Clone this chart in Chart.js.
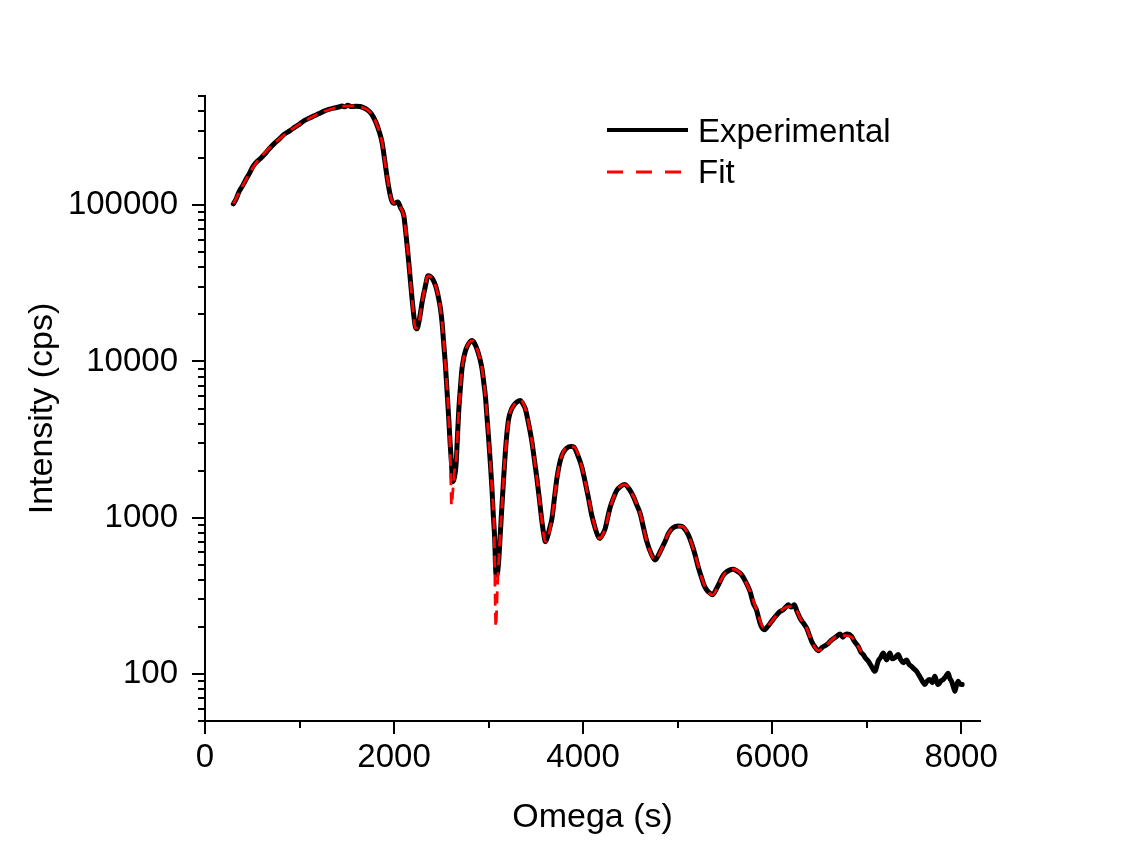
<!DOCTYPE html>
<html>
<head>
<meta charset="utf-8">
<title>Intensity vs Omega</title>
<script src="https://cdn.jsdelivr.net/npm/chart.js@4.4.1/dist/chart.umd.min.js"></script>
<style>
  html, body { margin: 0; padding: 0; background: #fff; }
  #wrap { width: 1130px; height: 863px; position: relative; }
</style>
</head>
<body>
<div id="wrap"><canvas id="chart"></canvas></div>
<script>
/* ---------- data ---------- */

const seriesNames = ['Experimental', 'Fit'];

const expX = [
  300, 330, 360, 394, 430, 470, 510, 553, 590, 630, 680, 730, 782, 840, 900, 950, 993,
  1050, 1100, 1150, 1205, 1260, 1310, 1360, 1416, 1450, 1480, 1510, 1550, 1593, 1640, 1680,
  1715, 1760, 1804, 1840, 1874, 1910, 1935, 1962, 1985, 2010, 2040, 2070, 2103, 2121, 2140,
  2156, 2175, 2191, 2210, 2227, 2245, 2260, 2280, 2297, 2330, 2360, 2385, 2410, 2440, 2466,
  2490, 2508, 2525, 2544, 2562, 2579, 2595, 2607, 2621, 2638, 2656, 2670, 2684, 2700, 2719,
  2740, 2762, 2790, 2825, 2850, 2878, 2905, 2931, 2950, 2966, 2985, 3001, 3020, 3036, 3050,
  3065, 3078, 3090, 3107, 3125, 3142, 3160, 3178, 3195, 3213, 3240, 3266, 3300, 3336, 3360,
  3389, 3420, 3459, 3485, 3512, 3540, 3565, 3585, 3601, 3625, 3645, 3671, 3700, 3723, 3750,
  3776, 3810, 3847, 3875, 3900, 3940, 3987, 4020, 4058, 4090, 4129, 4155, 4175, 4205, 4235,
  4260, 4288, 4320, 4358, 4400, 4439, 4490, 4534, 4570, 4605, 4640, 4675, 4720, 4763, 4800,
  4833, 4870, 4904, 4940, 4974, 5010, 5045, 5080, 5115, 5150, 5186, 5220, 5256, 5280, 5309,
  5340, 5369, 5410, 5450, 5475, 5503, 5550, 5590, 5630, 5678, 5720, 5767, 5800, 5837, 5860,
  5880, 5918, 5950, 5995, 6040, 6084, 6120, 6150, 6172, 6200, 6235, 6260, 6295, 6330, 6365,
  6390, 6418, 6450, 6489, 6530, 6577, 6630, 6683, 6720, 6750, 6771, 6800, 6841, 6870, 6912,
  6940, 6965, 6990, 7017, 7052, 7088, 7123, 7150, 7176, 7211, 7230, 7247, 7270, 7300, 7334,
  7360, 7387, 7423, 7450, 7475, 7500, 7528, 7555, 7581, 7600, 7617, 7640, 7670, 7695, 7722,
  7740, 7757, 7785, 7810, 7835, 7863, 7880, 7899, 7920, 7934, 7950, 7969, 7990, 8011
];
const expY = [
  102000, 110000, 122000, 132000, 145000, 160000, 178000, 191000, 200000, 212000, 230000, 247000, 264000, 285000, 300000, 316000, 328000,
  348000, 360000, 372000, 386000, 400000, 410000, 418000, 425000, 432000, 426000, 436000, 428000, 430000, 428000, 420000,
  409000, 385000, 344000, 300000, 251000, 178000, 140000, 114600, 104000, 103000, 105000, 96000, 86000, 70000, 54000,
  43000, 32000, 25100, 19500, 16600, 16200, 17500, 20500, 23900, 30000, 35300, 35000, 33600, 30500, 26400,
  22000, 17800, 13200, 9420, 6300, 4300, 2900, 2270, 1700, 1800, 2170, 3200, 4740, 6500, 8970,
  10700, 12000, 13000, 13600, 13100, 12000, 10600, 8970, 7300, 6050, 4300, 3210, 2200, 1540, 1050,
  738, 440, 430, 524, 800, 1200, 1800, 2640, 3500, 4300, 4900, 5230, 5500, 5620, 5400,
  4980, 4100, 3060, 2350, 1780, 1280, 942, 780, 703, 760, 850, 990, 1380, 1780, 2200,
  2510, 2720, 2840, 2860, 2840, 2550, 2110, 1720, 1330, 1050, 855, 770, 738, 780, 855,
  1000, 1170, 1330, 1500, 1590, 1630, 1520, 1360, 1200, 1060, 860, 703, 590, 536, 580,
  637, 710, 794, 850, 877, 885, 880, 840, 774, 680, 577, 480, 410, 370, 345,
  330, 321, 350, 391, 420, 442, 462, 468, 455, 431, 390, 337, 285, 255, 225,
  205, 192, 200, 217, 235, 251, 258, 270, 277, 268, 277, 255, 228, 212, 197,
  180, 162, 150, 141, 148, 154, 165, 174, 180, 172, 178, 180, 174, 162, 150,
  138, 133, 126, 121, 112, 104, 121, 128, 136, 123, 130, 136, 125, 127, 133,
  124, 118, 123, 115, 112, 108, 104, 98, 92, 88, 85.5, 90, 92, 88, 96.7,
  90, 85.5, 90, 92, 96, 101, 94, 89.8, 82, 77.6, 84, 89.8, 86, 85.5
];

const fitX = [
  300, 394, 553, 782, 993, 1205, 1416, 1550, 1650, 1715, 1760, 1804, 1874, 1910, 1962, 1995,
  2030, 2070, 2103, 2121, 2156, 2191, 2227, 2254, 2297, 2360, 2410, 2466, 2508, 2544, 2579,
  2595, 2609, 2623, 2640, 2656, 2684, 2719, 2762, 2825, 2878, 2931, 2966, 3001, 3036, 3060,
  3077, 3092, 3107, 3142, 3178, 3213, 3266, 3336, 3389, 3459, 3512, 3565, 3601, 3671, 3723,
  3776, 3847, 3900, 3987, 4058, 4129, 4175, 4235, 4288, 4358, 4439, 4534, 4605, 4675, 4763,
  4833, 4904, 4974, 5045, 5115, 5186, 5256, 5309, 5369, 5450, 5503, 5590, 5678, 5767, 5837,
  5918, 5995, 6084, 6172, 6235, 6295, 6365, 6418, 6489, 6577, 6683, 6771, 6841, 6912, 6945
];
const fitY = [
  102000, 132000, 191000, 264000, 328000, 386000, 425000, 432000, 425000, 409000, 385000, 344000, 251000, 178000, 114600, 103000,
  104000, 96000, 86000, 70000, 43000, 25100, 16300, 16800, 23900, 35300, 33600, 26400, 17800, 9420, 4300,
  2500, 1200, 1500, 2000, 2300, 4740, 8970, 12000, 13600, 12000, 8970, 6050, 3210, 1540, 800,
  200, 330, 524, 1200, 2640, 4300, 5230, 5620, 4980, 3060, 1780, 942, 703, 990, 1780,
  2510, 2840, 2840, 2110, 1330, 855, 738, 855, 1170, 1500, 1630, 1360, 1060, 703, 536,
  637, 794, 877, 880, 774, 577, 410, 345, 321, 391, 442, 468, 431, 337, 255,
  195, 217, 251, 270, 268, 228, 197, 162, 141, 154, 174, 176, 172, 150, 138
];

const xTicks = [0, 2000, 4000, 6000, 8000];
const xMinorTicks = [1000, 3000, 5000, 7000];
const yTicks = [100, 1000, 10000, 100000];
const yMinorTicks = [
  50, 60, 70, 80, 90,
  200, 300, 400, 500, 600, 700, 800, 900,
  2000, 3000, 4000, 5000, 6000, 7000, 8000, 9000,
  20000, 30000, 40000, 50000, 60000, 70000, 80000, 90000,
  200000, 300000, 400000, 500000
];

/* ---------- look ---------- */

const FONT = '"Liberation Sans", Arial, sans-serif';
const INK = '#000';
const FIT_RED = '#ff0000';

function toPoints(xs, ys) {
  return xs.map((x, i) => ({ x, y: ys[i] }));
}

// Origin-style tick marks: outward, majors longer than minors
const tickMarks = {
  id: 'tickMarks',
  afterDraw(chart) {
    const { ctx, chartArea: a, scales: { x, y } } = chart;
    ctx.save();
    ctx.strokeStyle = INK;
    ctx.lineWidth = 2;
    ctx.beginPath();
    const down = (v, len) => {
      const px = Math.round(x.getPixelForValue(v));
      ctx.moveTo(px, a.bottom);
      ctx.lineTo(px, a.bottom + len);
    };
    const left = (v, len) => {
      const py = Math.round(y.getPixelForValue(v));
      ctx.moveTo(a.left, py);
      ctx.lineTo(a.left - len, py);
    };
    xTicks.forEach((v) => down(v, 13));
    xMinorTicks.forEach((v) => down(v, 7));
    yTicks.forEach((v) => left(v, 13));
    yMinorTicks.forEach((v) => left(v, 7));
    ctx.stroke();
    ctx.restore();
  },
};

// legend box in the upper right of the plot, line samples + labels
const lineLegend = {
  id: 'lineLegend',
  afterDraw(chart) {
    const { ctx } = chart;
    const x0 = 607, x1 = 688, textX = 698;
    const rows = [{ y: 130, base: 142 }, { y: 172, base: 183 }];
    ctx.save();
    ctx.font = '33px ' + FONT;
    ctx.textBaseline = 'alphabetic';
    ctx.textAlign = 'left';
    seriesNames.forEach((name, i) => {
      const ds = chart.data.datasets.find((d) => d.label === name);
      ctx.strokeStyle = ds.borderColor;
      ctx.lineWidth = i === 0 ? 4 : 3;
      ctx.setLineDash(i === 0 ? [] : [16, 13]);
      ctx.lineCap = 'butt';
      ctx.beginPath();
      ctx.moveTo(x0, rows[i].y);
      ctx.lineTo(x1, rows[i].y);
      ctx.stroke();
      ctx.setLineDash([]);
      ctx.fillStyle = INK;
      ctx.fillText(name, textX, rows[i].base);
    });
    ctx.restore();
  },
};

/* ---------- chart ---------- */

new Chart(document.getElementById('chart'), {
  type: 'line',
  data: {
    datasets: [
      {
        label: seriesNames[0],
        data: toPoints(expX, expY),
        borderColor: INK,
        borderWidth: 5,
        borderJoinStyle: 'round',
        borderCapStyle: 'round',
        order: 1,
      },
      {
        label: seriesNames[1],
        data: toPoints(fitX, fitY),
        borderColor: FIT_RED,
        borderWidth: 2.8,
        borderDash: [12, 7],
        order: 0,
      },
    ],
  },
  options: {
    responsive: true,
    maintainAspectRatio: false,
    animation: false,
    layout: { padding: { top: 96, right: 150, left: 0, bottom: 0 } },
    plugins: { legend: { display: false }, tooltip: { enabled: false } },
    elements: {
      point: { radius: 0 },
      line: { cubicInterpolationMode: 'monotone', fill: false },
    },
    scales: {
      x: {
        type: 'linear',
        min: 0,
        max: 8200,
        grid: { display: false, drawTicks: false },
        border: { display: true, color: INK, width: 2 },
        afterBuildTicks: (s) => { s.ticks = xTicks.map((value) => ({ value })); },
        afterFit: (s) => { s.height = 142; },
        ticks: {
          color: INK,
          font: { family: FONT, size: 33 },
          padding: 17,
          maxRotation: 0,
          autoSkip: false,
          callback: (v) => String(v),
        },
        title: {
          display: true,
          text: 'Omega (s)',
          color: INK,
          font: { family: FONT, size: 34 },
          padding: { top: 0, bottom: 25 },
        },
      },
      y: {
        type: 'logarithmic',
        min: 50,
        max: 500000,
        grid: { display: false, drawTicks: false },
        border: { display: true, color: INK, width: 2 },
        afterBuildTicks: (s) => { s.ticks = yTicks.map((value) => ({ value })); },
        afterFit: (s) => { s.width = 205; },
        ticks: {
          color: INK,
          font: { family: FONT, size: 33 },
          padding: 27,
          autoSkip: false,
          callback: (v) => String(v),
        },
        title: {
          display: true,
          text: 'Intensity (cps)',
          color: INK,
          font: { family: FONT, size: 34 },
          padding: { top: 22, bottom: 0 },
        },
      },
    },
  },
  plugins: [tickMarks, lineLegend],
});
</script>
</body>
</html>
